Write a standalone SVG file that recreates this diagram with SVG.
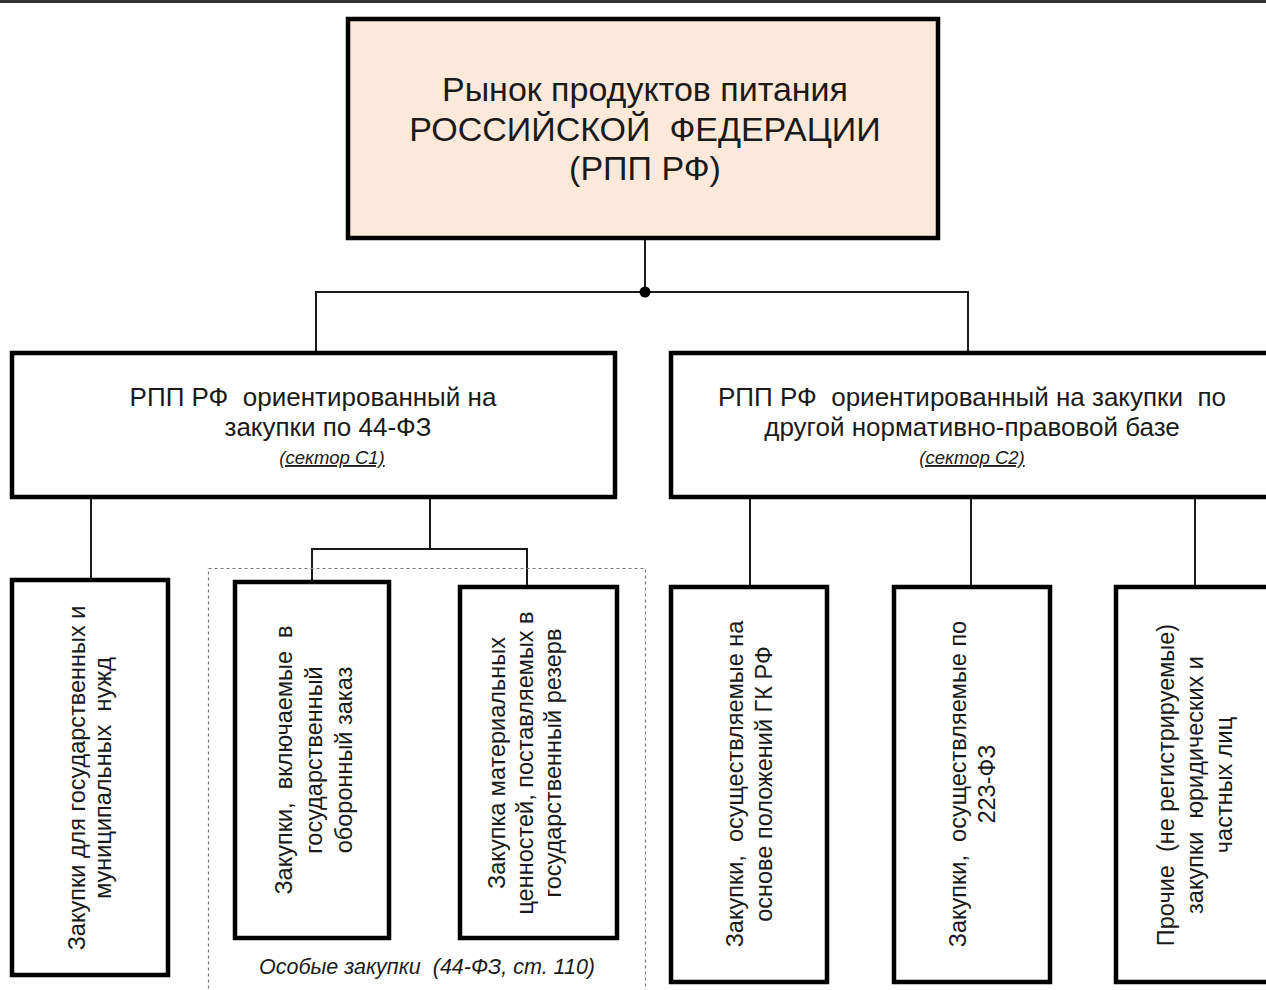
<svg xmlns="http://www.w3.org/2000/svg" width="1266" height="990" viewBox="0 0 1266 990">
<style>
.box{fill:#ffffff;stroke:#000;stroke-width:4.5}
.root{fill:#fde9d9;stroke:#000;stroke-width:4.5}
.con{stroke:#1a1a1a;stroke-width:2;fill:none}
.t{font-family:"Liberation Sans",Arial,sans-serif;fill:#1a1a1a;text-anchor:middle}
.big{font-size:34px}
.mid{font-size:26px}
.sec{font-size:18.5px;font-style:italic;text-decoration:underline}
.vt{font-size:23.5px}
</style>
<line x1="0" y1="1.5" x2="1266" y2="1.5" stroke="#333" stroke-width="3"/>
<g id="connectors">
<line class="con" x1="645" y1="238" x2="645" y2="292"/>
<polyline class="con" points="316,352 316,292 968,292 968,352"/>
<circle cx="645" cy="292" r="5.5" fill="#000"/>
<line class="con" x1="91" y1="497" x2="91" y2="580"/>
<line class="con" x1="430" y1="497" x2="430" y2="549"/>
<polyline class="con" points="312,582 312,549 527,549 527,587"/>
<line class="con" x1="750" y1="497" x2="750" y2="587"/>
<line class="con" x1="971" y1="497" x2="971" y2="587"/>
<line class="con" x1="1195" y1="497" x2="1195" y2="587"/>
</g>
<g id="special-group">
<rect x="208.5" y="568.5" width="437" height="430" fill="none" stroke="#777" stroke-width="1.2" stroke-dasharray="3,3"/>
<text class="t" x="427" y="974" style="font-size:21.5px;font-style:italic" xml:space="preserve">Особые закупки  (44-ФЗ, ст. 110)</text>
</g>
<g id="root">
<rect class="root" x="348" y="19" width="590" height="219"/>
<text class="t big" x="645" y="101">Рынок продуктов питания</text>
<text class="t big" x="645" y="141" xml:space="preserve">РОССИЙСКОЙ  ФЕДЕРАЦИИ</text>
<text class="t big" x="645" y="180">(РПП РФ)</text>
</g>
<g id="sector-c1">
<rect class="box" x="12" y="353" width="603" height="144"/>
<text class="t mid" x="313" y="406" xml:space="preserve">РПП РФ  ориентированный на</text>
<text class="t mid" x="328" y="436">закупки по 44-ФЗ</text>
<text class="t sec" x="332" y="464">(сектор С1)</text>
</g>
<g id="sector-c2">
<rect class="box" x="671" y="353" width="620" height="144"/>
<text class="t mid" x="972" y="406" xml:space="preserve">РПП РФ  ориентированный на закупки  по</text>
<text class="t mid" x="972" y="436">другой нормативно-правовой базе</text>
<text class="t sec" x="972" y="464">(сектор С2)</text>
</g>
<g id="state-municipal">
<rect class="box" x="12" y="580" width="156" height="395"/>
<g transform="translate(0,778) rotate(-90)">
<text class="t vt" x="0" y="85">Закупки для государственных и</text>
<text class="t vt" x="0" y="111" xml:space="preserve">муниципальных  нужд</text>
</g>
</g>
<g id="defense-order">
<rect class="box" x="235" y="582" width="154" height="356"/>
<g transform="translate(0,760) rotate(-90)">
<text class="t vt" x="0" y="292" xml:space="preserve">Закупки,  включаемые  в</text>
<text class="t vt" x="0" y="322">государственный</text>
<text class="t vt" x="0" y="352">оборонный заказ</text>
</g>
</g>
<g id="state-reserve">
<rect class="box" x="460" y="587" width="157" height="351"/>
<g transform="translate(0,763) rotate(-90)">
<text class="t vt" x="0" y="505">Закупка материальных</text>
<text class="t vt" x="0" y="533">ценностей, поставляемых в</text>
<text class="t vt" x="0" y="561">государственный резерв</text>
</g>
</g>
<g id="civil-code">
<rect class="box" x="671" y="587" width="156" height="395"/>
<g transform="translate(0,784) rotate(-90)">
<text class="t vt" x="0" y="743" xml:space="preserve">Закупки,  осуществляемые на</text>
<text class="t vt" x="0" y="772">основе положений ГК РФ</text>
</g>
</g>
<g id="law-223">
<rect class="box" x="894" y="587" width="156" height="395"/>
<g transform="translate(0,784) rotate(-90)">
<text class="t vt" x="0" y="966" xml:space="preserve">Закупки,  осуществляемые по</text>
<text class="t vt" x="0" y="995">223-ФЗ</text>
</g>
</g>
<g id="other">
<rect class="box" x="1116" y="587" width="170" height="395"/>
<g transform="translate(0,785) rotate(-90)">
<text class="t vt" x="0" y="1174" xml:space="preserve">Прочие  (не регистрируемые)</text>
<text class="t vt" x="0" y="1203" xml:space="preserve">закупки  юридических и</text>
<text class="t vt" x="0" y="1232">частных лиц</text>
</g>
</g>
</svg>
